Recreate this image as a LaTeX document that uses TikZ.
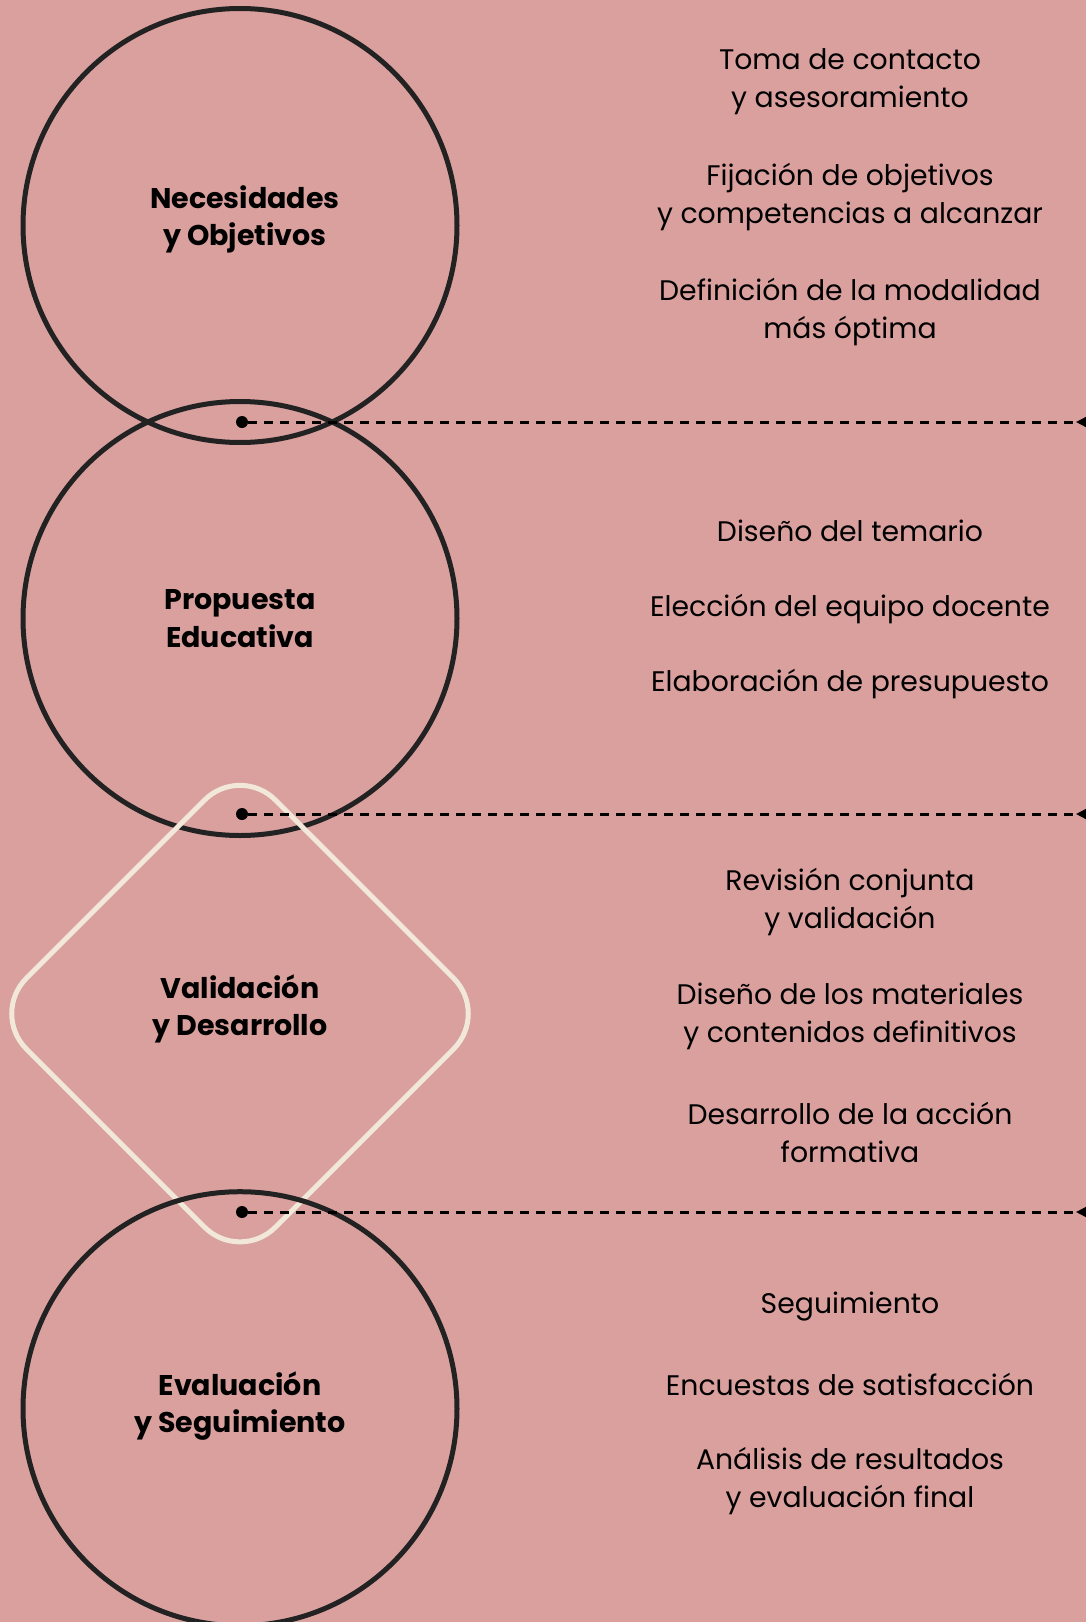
\documentclass[tikz,border=0pt]{standalone}
\usepackage{fontspec}
\setmainfont{Poppins}
\usetikzlibrary{arrows.meta,shapes.geometric}
\definecolor{fondo}{HTML}{D9A09E}
\definecolor{tinta}{HTML}{222222}
\definecolor{crema}{HTML}{F2E8DA}

\begin{document}
\begin{tikzpicture}[x=1pt,y=-1pt,line cap=round,line join=round,
    etapa/.style={circle,draw=tinta,line width=5pt,minimum size=434pt,inner sep=0pt},
    rombo/.style={diamond,aspect=1,draw=crema,line width=5pt,minimum size=500pt,inner sep=0pt,rounded corners=50pt},
    titulo/.style={align=center,text=black,font=\fontsize{28.5}{37.5}\selectfont\bfseries},
    paso/.style={align=center,text=black,font=\fontsize{28.3}{38}\selectfont},
    punto/.style={circle,fill=black,minimum size=12pt,inner sep=0pt},
    guion/.style={line width=3pt,line cap=butt,dash pattern=on 9pt off 7pt,-{Triangle[length=19pt,width=19pt,reversed]}}]

    % fondo
    \fill[fondo] (0,0) rectangle (1086,1622);
    \useasboundingbox (0,0) rectangle (1086,1622);

    % etapas
    \node[etapa] (c1) at (240,225.5) {};
    \node[etapa] (c2) at (240,618.5) {};
    \node[rombo] (r3) at (240,1013.6) {};
    \node[etapa] (c4) at (240,1408.7) {};

    \node[titulo] (t1) at (245,219.5) {Necesidades\\y Objetivos};
    \node[titulo] (t2) at (240,618.5) {Propuesta\\Educativa};
    \node[titulo] (t3) at (240,1009) {Validación\\y Desarrollo};
    \node[titulo] (t4) at (240,1406) {Evaluación\\y Seguimiento};

    % separadores
    \node[punto] (p1) at (242,422) {};
    \node[punto] (p2) at (242,814) {};
    \node[punto] (p3) at (242,1212) {};
    \coordinate (f1) at (1095,422);
    \coordinate (f2) at (1095,814);
    \coordinate (f3) at (1095,1212);
    \draw[guion] (p1) -- (f1);
    \draw[guion] (p2) -- (f2);
    \draw[guion] (p3) -- (f3);

    % pasos
    \node[paso] (a1) at (850,82) {Toma de contacto\\y asesoramiento};
    \node[paso] (a2) at (850,197) {Fijación de objetivos\\y competencias a alcanzar};
    \node[paso] (a3) at (850,312) {Definición de la modalidad\\más óptima};

    \node[paso] (b1) at (850,531) {Diseño del temario};
    \node[paso] (b2) at (850,609) {Elección del equipo docente};
    \node[paso] (b3) at (850,684.5) {Elaboración de presupuesto};

    \node[paso] (d1) at (850,902) {Revisión conjunta\\y validación};
    \node[paso] (d2) at (850,1016.5) {Diseño de los materiales\\y contenidos definitivos};
    \node[paso] (d3) at (850,1132) {Desarrollo de la acción\\formativa};

    \node[paso] (e1) at (850,1307) {Seguimiento};
    \node[paso] (e2) at (850,1384.5) {Encuestas de satisfacción};
    \node[paso] (e3) at (850,1481) {Análisis de resultados\\y evaluación final};
\end{tikzpicture}
\end{document}
